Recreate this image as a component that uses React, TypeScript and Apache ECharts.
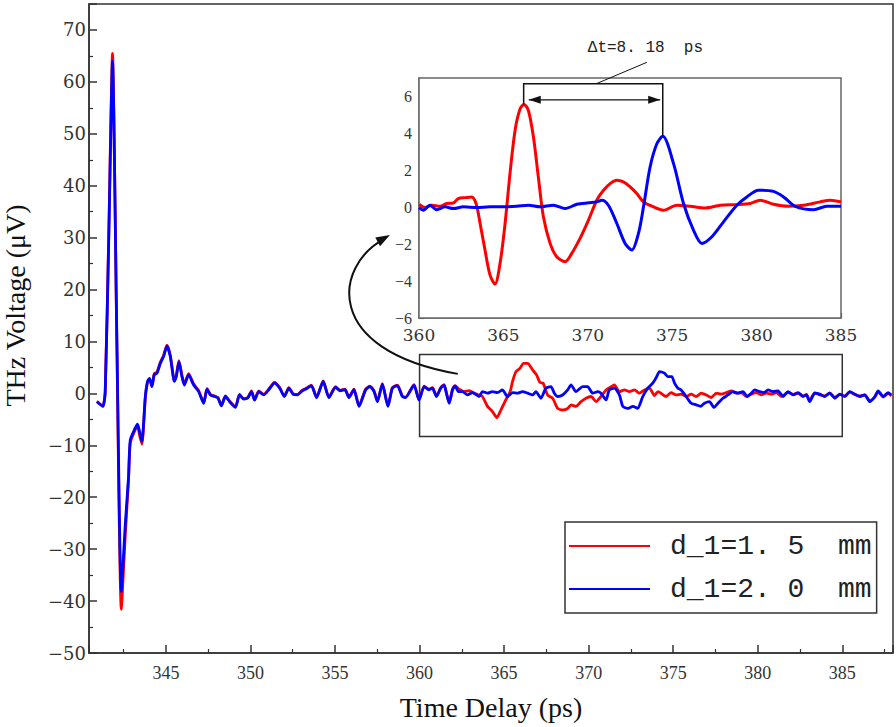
import React, { useEffect, useRef } from "react";
import * as echarts from "echarts";

const RED_NAME = "d_1=1. 5  mm";
const BLUE_NAME = "d_1=2. 0  mm";

// main panel: shared early part (ps, μV)
const earlyTime = [340.92, 341.27, 341.41, 341.62, 341.84, 342.1, 342.36, 342.6, 342.79, 342.89, 343.18, 343.32, 343.45, 343.58, 343.78, 343.91, 344.03, 344.17, 344.31, 344.47, 344.67, 344.86, 345.06, 345.26, 345.5, 345.61, 345.77, 345.95, 346.09, 346.34, 346.64, 346.94, 347.23, 347.43, 347.63, 347.88, 348.08, 348.28, 348.52, 348.77, 349.11, 349.35, 349.6, 349.84, 350.06, 350.24, 350.49, 350.79, 351.08, 351.42, 351.73, 352.0, 352.27, 352.53, 352.77, 353.06, 353.36, 353.6, 353.91, 354.3, 354.64, 355.03, 355.29, 355.59, 355.82, 356.12, 356.42, 356.81, 357.07, 357.31, 357.51, 357.8, 358.13, 358.39, 358.69, 358.98, 359.18, 359.67, 359.97, 360.27, 360.56, 360.76, 361.0, 361.25, 361.45, 361.59, 361.75, 361.95, 362.1];
const earlyBlue = [-1.6, -2.5, 0.3, 30, 64, 10, -38.2, -25, -16, -9.0, -6.7, -5.9, -7.5, -9.3, -0.6, 2.3, 2.9, 1.3, 3.6, 3.9, 5.8, 7.1, 9.15, 7.1, 2.3, 3.2, 6.1, 3.2, 1.6, 3.6, 1.6, 0.35, -1.9, 0.8, -0.3, -0.6, -0.9, -2.4, -0.6, -1.6, -2.7, -0.3, -1.1, -0.9, 0.35, -1.3, 0.35, -0.3, 0.7, 2.0, 1.0, -0.6, 1.0, -0.2, -0.3, 0.5, 1.0, 1.5, -0.8, 2.3, -0.8, 1.2, 0.5, 0.7, -0.8, 0.7, -2.5, 0.7, 1.3, 0.35, -1.6, 1.8, -2.5, 1.0, 1.5, -0.6, -0.8, 1.6, -1.3, 1.3, 0.7, 1.0, -0.6, 1.0, 1.6, 0.0, -1.9, 0.7, 1.45];
const earlyRed = [-1.5, -2.4, 0.4, 31, 65.5, 9, -41.6, -27, -16.5, -9.6, -7.0, -6.3, -8.2, -9.8, -0.9, 2.1, 2.8, 1.5, 3.8, 4.1, 6.0, 7.3, 9.3, 7.3, 2.5, 3.4, 6.3, 3.4, 1.8, 3.8, 1.8, 0.5, -1.8, 0.9, -0.2, -0.5, -0.8, -2.3, -0.5, -1.5, -2.6, -0.2, -1.0, -0.8, 0.5, -1.2, 0.5, -0.2, 0.8, 2.1, 1.1, -0.5, 1.1, -0.1, -0.2, 0.6, 1.1, 1.6, -0.7, 2.4, -0.7, 1.3, 0.6, 0.8, -0.7, 0.8, -2.4, 0.8, 1.4, 0.45, -1.5, 1.9, -2.4, 1.1, 1.6, -0.5, -0.7, 1.7, -1.2, 1.4, 0.8, 1.1, -0.5, 1.1, 1.7, 0.1, -1.8, 0.8, 1.5];

// main panel: late part
const lateRedTime = [362.34, 362.63, 362.93, 363.23, 363.52, 363.72, 364.02, 364.31, 364.57, 364.81, 365.1, 365.36, 365.5, 365.7, 365.94, 366.15, 366.39, 366.69, 366.92, 367.12, 367.31, 367.57, 367.87, 368.17, 368.46, 368.76, 368.96, 369.25, 369.55, 369.84, 370.14, 370.44, 370.73, 371.03, 371.33, 371.52, 371.82, 372.12, 372.41, 372.71, 373.0, 373.3, 373.6, 373.89, 374.1, 374.28, 374.58, 374.88, 375.17, 375.47, 375.77, 376.06, 376.36, 376.66, 376.95, 377.25, 377.55, 377.84, 378.14, 378.44, 378.73, 379.03, 379.33, 379.62, 379.92, 380.22, 380.51, 380.81, 381.1, 381.4, 381.79, 382.09, 382.39, 382.68, 382.88, 383.07, 383.37, 383.67, 383.96, 384.26, 384.56, 384.85, 385.15, 385.44, 385.74, 386.04, 386.33, 386.63, 386.93, 387.12, 387.42, 387.72, 387.9];
const lateRed = [0.8, 0.35, 0.55, 0.04, -0.3, -0.6, -2.5, -3.5, -4.66, -3.2, -1.25, 0.35, 2.3, 4.2, 4.85, 5.8, 5.8, 4.5, 3.56, 2.1, 1.96, -0.3, -0.93, -2.9, -3.2, -2.9, -2.2, -2.5, -1.6, -0.93, -0.6, -1.6, -0.6, 0.67, 1.3, 1.64, 0.35, 0.67, 0.35, 0.67, 0.04, 0.67, 1.0, -0.4, 0.35, 0.04, -0.6, 0.15, -0.3, -0.15, -0.6, -0.15, -0.6, 0.04, -0.3, -0.8, 0.04, -0.15, 0.15, 0.5, 0.04, 0.15, -0.6, -0.15, 0.15, -0.3, 0.04, -0.15, 0.15, -0.6, 0.2, -0.2, 0.0, -0.5, -0.2, -1.4, 0.1, -0.3, -0.5, 0.1, -0.8, -0.2, -0.5, 0.3, -0.2, -0.5, -0.3, -1.4, -0.7, 0.3, -0.7, 0.0, -0.5];
const lateBlueTime = [362.3, 362.54, 362.83, 363.13, 363.52, 363.72, 364.02, 364.31, 364.61, 364.9, 365.2, 365.5, 365.8, 366.09, 366.39, 366.69, 366.88, 367.18, 367.47, 367.77, 367.97, 368.17, 368.46, 368.76, 368.96, 369.25, 369.65, 369.94, 370.24, 370.54, 370.73, 371.03, 371.22, 371.52, 371.82, 372.02, 372.31, 372.61, 372.9, 373.2, 373.5, 373.79, 373.99, 374.19, 374.48, 374.68, 374.92, 375.08, 375.28, 375.47, 375.77, 376.06, 376.36, 376.62, 376.85, 377.15, 377.41, 377.65, 377.94, 378.24, 378.53, 378.83, 379.13, 379.38, 379.62, 379.81, 380.11, 380.37, 380.61, 380.9, 381.2, 381.5, 381.79, 382.09, 382.39, 382.68, 382.88, 383.07, 383.37, 383.67, 383.96, 384.26, 384.56, 384.85, 385.15, 385.44, 385.74, 386.04, 386.33, 386.63, 386.93, 387.12, 387.42, 387.72, 387.9];
const lateBlue = [0.35, 0.35, -0.3, 0.15, -0.6, 0.35, 0.04, 0.35, 0.15, 0.67, -0.6, 0.15, 0.04, 0.35, 0.04, -0.3, 0.35, -0.93, 1.0, 1.3, 0.04, -0.6, -0.3, 0.67, 1.64, 0.35, 1.3, 1.3, 0.04, 0.35, 0.04, -1.25, 0.67, 1.0, -0.3, -2.5, -2.9, -2.5, -2.9, -0.6, 1.0, 1.96, 3.0, 4.2, 3.9, 3.24, 3.24, 1.96, 1.0, 0.67, -0.6, -1.9, -2.2, -2.5, -1.9, -1.6, -2.7, -1.9, -0.93, -0.3, 0.35, 0.04, 0.35, -0.6, 0.04, 0.67, 0.35, 0.15, 0.67, 0.35, 0.5, -0.6, 0.35, -0.3, 0.15, -0.6, -0.3, -1.6, 0.04, -0.15, -0.6, 0.04, -0.93, -0.15, -0.6, 0.35, -0.15, -0.6, -0.3, -1.6, -0.6, 0.5, -0.6, 0.15, -0.3];

// inset panel
const insetRedTime = [360.0, 360.36, 360.75, 361.24, 361.64, 362.04, 362.33, 362.73, 363.12, 363.38, 363.62, 363.91, 364.21, 364.5, 364.8, 365.1, 365.39, 365.69, 365.99, 366.22, 366.48, 366.78, 367.07, 367.37, 367.77, 368.16, 368.66, 369.05, 369.54, 370.04, 370.53, 370.93, 371.32, 371.72, 372.11, 372.51, 372.9, 373.3, 373.89, 374.48, 375.28, 376.07, 376.96, 377.85, 378.83, 379.62, 380.21, 381.0, 381.89, 382.78, 383.77, 384.36, 385.0];
const insetRed = [0.16, -0.02, 0.11, 0.05, 0.2, 0.24, 0.47, 0.52, 0.56, 0.2, -0.88, -2.32, -3.68, -4.16, -3.05, -0.88, 1.82, 4.16, 5.33, 5.57, 5.24, 3.8, 1.64, -0.52, -1.96, -2.68, -2.95, -2.5, -1.69, -0.7, 0.38, 0.92, 1.28, 1.46, 1.37, 1.1, 0.74, 0.29, 0.02, -0.16, 0.11, 0.05, -0.04, 0.11, 0.14, 0.2, 0.38, 0.16, 0.05, 0.11, 0.29, 0.38, 0.29];
const insetBlueTime = [360.0, 360.26, 360.65, 361.05, 361.54, 362.04, 362.63, 363.42, 364.21, 365.0, 365.79, 366.48, 367.17, 367.96, 368.66, 369.35, 370.04, 370.53, 370.83, 371.22, 371.72, 372.21, 372.61, 373.0, 373.3, 373.69, 374.09, 374.44, 375.08, 375.67, 376.26, 376.76, 377.35, 378.04, 378.83, 379.42, 380.11, 381.0, 381.6, 382.29, 383.37, 384.16, 385.0];
const insetBlue = [-0.02, -0.16, 0.11, -0.13, 0.02, -0.07, 0.02, -0.02, 0.02, 0.02, 0.05, 0.11, 0.02, 0.11, -0.07, 0.16, 0.24, 0.29, 0.38, 0.11, -0.88, -1.96, -2.32, -1.42, 0.02, 2.18, 3.44, 3.84, 2.36, 0.2, -1.24, -1.96, -1.6, -0.79, 0.11, 0.56, 0.92, 0.86, 0.56, 0.05, -0.13, 0.05, 0.05];

// annotation values
const redPeak = [366.2, 5.57];
const bluePeak = [374.44, 3.84];
const bracketTop = 6.69;
const arrowLevel = 5.82;
const deltaLabel = "Δt=8. 18  ps";
const zoomBox = { x0: 360, x1: 385, y0: -8.3, y1: 7.5 };

const zip = (t: number[], v: number[]) => t.map((x, i) => [x, v[i]]);
const minus = (v: number) => String(v).replace("-", "\u2212");

export default function App() {
  const ref = useRef<HTMLDivElement>(null);
  useEffect(() => {
    document.body.style.margin = "0";
    const chart = echarts.init(ref.current!, null, { renderer: "svg" });
    const axisCol = "#333";
    const insetCol = "#666";
    const option: any = {
      animation: false,
      backgroundColor: "#fff",
      grid: [
        { left: 89, top: 4, right: 3, bottom: 74, show: true, borderColor: axisCol, borderWidth: 1.5, backgroundColor: "transparent", containLabel: false, outerBoundsMode: "none" },
        { left: 419, top: 78, right: 55, bottom: 409, show: true, borderColor: insetCol, borderWidth: 1.5, backgroundColor: "#fff", z: 5, containLabel: false, outerBoundsMode: "none" },
      ],
      legend: {
        show: true,
        orient: "vertical",
        left: 565,
        top: 522,
        data: [RED_NAME, BLUE_NAME],
        icon: "rect",
        itemWidth: 81,
        itemHeight: 2,
        itemGap: 15,
        padding: [10, 5, 10, 4],
        borderColor: axisCol,
        borderWidth: 1.5,
        backgroundColor: "#fff",
        textStyle: { fontFamily: "Liberation Mono", fontSize: 28, color: "#222", padding: [0, 0, 0, 15] },
      },
      xAxis: [
        {
          type: "value", gridIndex: 0, min: 340.45, max: 388, splitNumber: 10,
          axisLine: { show: true, onZero: false, lineStyle: { color: axisCol, width: 1.5 } },
          axisTick: { show: true, inside: true, length: 8, lineStyle: { color: axisCol, width: 1.5 } },
          minorTick: { show: true, splitNumber: 2, length: 4, lineStyle: { color: axisCol, width: 1.2 } },
          splitLine: { show: false },
          axisLabel: { showMinLabel: false, showMaxLabel: false, fontFamily: "Liberation Serif", fontSize: 18, color: "#333", margin: 11 },
          name: "Time Delay (ps)", nameLocation: "middle", nameGap: 40,
          nameTextStyle: { fontFamily: "Liberation Serif", fontSize: 28, color: "#111" },
        },
        {
          type: "value", gridIndex: 1, min: 360, max: 385, interval: 5,
          axisLine: { show: true, onZero: false, lineStyle: { color: insetCol, width: 1.5 } },
          axisTick: { show: true, inside: true, length: 5, lineStyle: { color: insetCol, width: 1.2 } },
          minorTick: { show: true, splitNumber: 2, length: 3, lineStyle: { color: insetCol, width: 1 } },
          splitLine: { show: false },
          axisLabel: { fontFamily: "DejaVu Serif", fontSize: 17, color: "#333", margin: 8 },
        },
      ],
      yAxis: [
        {
          type: "value", gridIndex: 0, min: -50, max: 75, interval: 10,
          axisLine: { show: true, onZero: false, lineStyle: { color: axisCol, width: 1.5 } },
          axisTick: { show: true, inside: true, length: 8, lineStyle: { color: axisCol, width: 1.5 } },
          minorTick: { show: true, splitNumber: 2, length: 4, lineStyle: { color: axisCol, width: 1.2 } },
          splitLine: { show: false },
          axisLabel: { showMaxLabel: false, formatter: minus, fontFamily: "DejaVu Serif", fontSize: 18, color: "#333", margin: 3 },
          name: "THz Voltage (μV)", nameLocation: "middle", nameGap: 60,
          nameTextStyle: { fontFamily: "Liberation Serif", fontSize: 28, color: "#111", padding: [0, 0, 0, 46] },
        },
        {
          type: "value", gridIndex: 1, min: -6, max: 7, interval: 2,
          axisLine: { show: true, onZero: false, lineStyle: { color: insetCol, width: 1.5 } },
          axisTick: { show: true, inside: true, length: 5, lineStyle: { color: insetCol, width: 1.2 } },
          minorTick: { show: true, splitNumber: 2, length: 3, lineStyle: { color: insetCol, width: 1 } },
          splitLine: { show: false },
          axisLabel: { showMaxLabel: false, formatter: minus, fontFamily: "Liberation Serif", fontSize: 16, color: "#333", margin: 7 },
        },
      ],
      series: [
        {
          name: RED_NAME, type: "line", xAxisIndex: 0, yAxisIndex: 0, symbol: "none", showSymbol: false, smooth: 0.2,
          data: zip(earlyTime, earlyRed).concat(zip(lateRedTime, lateRed)),
          lineStyle: { color: "#ff0000", width: 2.8 }, itemStyle: { color: "#ff0000" },
        },
        {
          name: BLUE_NAME, type: "line", xAxisIndex: 0, yAxisIndex: 0, symbol: "none", showSymbol: false, smooth: 0.2,
          data: zip(earlyTime, earlyBlue).concat(zip(lateBlueTime, lateBlue)),
          lineStyle: { color: "#0000ff", width: 2.8 }, itemStyle: { color: "#0000ff" },
          markArea: {
            silent: true,
            itemStyle: { color: "rgba(0,0,0,0)", borderColor: axisCol, borderWidth: 1.5 },
            data: [[{ xAxis: zoomBox.x0, yAxis: zoomBox.y1 }, { xAxis: zoomBox.x1, yAxis: zoomBox.y0 }]],
          },
        },
        {
          name: "inset-red", type: "line", xAxisIndex: 1, yAxisIndex: 1, symbol: "none", showSymbol: false, smooth: 0.3, z: 6,
          data: zip(insetRedTime, insetRed),
          lineStyle: { color: "#ff0000", width: 3 }, itemStyle: { color: "#ff0000" },
        },
        {
          name: "inset-blue", type: "line", xAxisIndex: 1, yAxisIndex: 1, symbol: "none", showSymbol: false, smooth: 0.3, z: 6,
          data: zip(insetBlueTime, insetBlue),
          lineStyle: { color: "#0000ff", width: 3 }, itemStyle: { color: "#0000ff" },
        },
      ],
    };
    chart.setOption(option);

    const ip = (x: number, y: number) => chart.convertToPixel({ gridIndex: 1 } as any, [x, y]) as number[];
    const mp = (x: number, y: number) => chart.convertToPixel({ gridIndex: 0 } as any, [x, y]) as number[];
    const head = (tip: number[], from: number[], L: number, W: number) => {
      const dx = tip[0] - from[0], dy = tip[1] - from[1];
      const n = Math.hypot(dx, dy) || 1;
      const ux = dx / n, uy = dy / n;
      const bx = tip[0] - ux * L, by = tip[1] - uy * L;
      return [tip, [bx - uy * W, by + ux * W], [bx + uy * W, by - ux * W]];
    };

    const a = ip(redPeak[0], redPeak[1]);
    const b = ip(redPeak[0], bracketTop);
    const c = ip(bluePeak[0], bracketTop);
    const d = ip(bluePeak[0], bluePeak[1]);
    const l = ip(redPeak[0] + 0.3, arrowLevel);
    const r = ip(bluePeak[0] - 0.15, arrowLevel);
    const leadA = ip(370.5, bracketTop);
    const leadB = ip(373.5, 7.85);
    const txt = ip(370.0, 8.6);

    const start = mp(362.26, 3.76);
    const end = ip(358.28, -1.51);
    const cp1 = [start[0] - 137, start[1] - 24];
    const cp2 = [end[0] - 55, end[1] + 30];

    const black = "#111";
    chart.setOption({
      graphic: [
        { type: "polyline", z: 100, shape: { points: [a, b, c, d] }, style: { stroke: black, lineWidth: 1.5, fill: null } },
        { type: "line", z: 100, shape: { x1: l[0], y1: l[1], x2: r[0], y2: r[1] }, style: { stroke: black, lineWidth: 1.2 } },
        { type: "polygon", z: 100, shape: { points: head(l, r, 12, 4) }, style: { fill: black } },
        { type: "polygon", z: 100, shape: { points: head(r, l, 12, 4) }, style: { fill: black } },
        { type: "line", z: 100, shape: { x1: leadA[0], y1: leadA[1], x2: leadB[0], y2: leadB[1] }, style: { stroke: black, lineWidth: 1 } },
        { type: "text", z: 100, x: txt[0], y: txt[1], style: { text: deltaLabel, fontFamily: "Liberation Mono", fontSize: 16, fill: "#222", align: "left", verticalAlign: "middle" } },
        {
          type: "bezierCurve", z: 100,
          shape: { x1: start[0], y1: start[1], x2: end[0] - 6, y2: end[1] + 4, cpx1: cp1[0], cpy1: cp1[1], cpx2: cp2[0], cpy2: cp2[1] },
          style: { stroke: black, lineWidth: 2, fill: null },
        },
        { type: "polygon", z: 100, shape: { points: head(end, cp2, 14, 5) }, style: { fill: black } },
      ],
    });
    return () => chart.dispose();
  }, []);
  return <div ref={ref} style={{ width: 896, height: 727 }} />;
}
